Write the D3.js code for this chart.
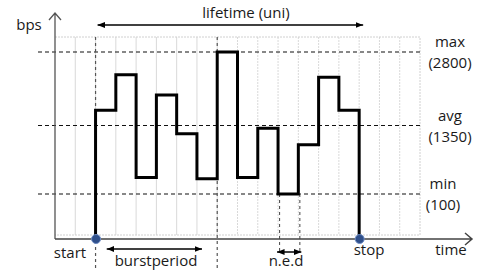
<!DOCTYPE html>
<html lang="en">
  <head>
    <meta charset="UTF-8" />
    <title>bps lifetime</title>
    <style>
      body { margin: 0; background: #fff; }
      text { font-family: "Open Sans", sans-serif; fill: #1a1a1a; }
    </style>
  </head>
  <body>
    <svg width="477" height="270"></svg>
    <script src="https://cdnjs.cloudflare.com/ajax/libs/d3/7.8.5/d3.min.js"></script>
    <script>
      // data
      const slotCount = 18;
      const startSlot = 2;
      const stopSlot = 15;
      const stepValues = [1650, 2350, 400, 1950, 1200, 380, 2800, 400, 1300, 100, 1000, 2300, 1650];
      const levelNames = ["max", "avg", "min"];
      const levelValues = [2800, 1350, 100];
      const levelLabels = ["(2800)", "(1350)", "(100)"];
      const markSlots = [2, 8];      // long dashed verticals
      const nedSlots = [11, 12];     // n.e.d span
      const burstSpan = [2.55, 7.25];

      const svg = d3.select("svg");
      const gridTop = 37, axisY = 239;

      const x = d3.scaleLinear().domain([0, slotCount]).range([55, 420]);
      // schematic axis: levels are not evenly spaced
      const y = d3.scaleLinear().domain([0, 100, 1350, 2800]).range([axisY, 194, 125.5, 52]);

      const defs = svg.append("defs");
      defs.append("marker")
        .attr("id", "tri")
        .attr("viewBox", "0 0 10 10")
        .attr("refX", 10).attr("refY", 5)
        .attr("markerWidth", 5).attr("markerHeight", 5)
        .attr("orient", "auto-start-reverse")
        .append("path").attr("d", "M0,1L10,5L0,9Z").attr("fill", "#000");

      // grid
      const g = svg.append("g");
      g.selectAll("line.v")
        .data(d3.range(1, slotCount))
        .join("line")
        .attr("x1", d => x(d)).attr("x2", d => x(d))
        .attr("y1", gridTop).attr("y2", 235)
        .attr("stroke", "#d9d9d9")
        .attr("stroke-dasharray", d => d >= 9 ? "2,1" : null);
      g.append("path")
        .attr("d", `M${x(0)},${gridTop}H${x(slotCount)}V235H${x(0)}`)
        .attr("fill", "none").attr("stroke", "#d0d0d0")
        .attr("stroke-dasharray", "2,1");

      // level lines
      g.selectAll("line.lvl")
        .data(levelValues)
        .join("line")
        .attr("x1", 38).attr("x2", 422)
        .attr("y1", d => y(d)).attr("y2", d => y(d))
        .attr("stroke", "#111").attr("stroke-width", 1.1)
        .attr("stroke-dasharray", "4,3");

      // dashed markers
      svg.selectAll("line.mk")
        .data(markSlots)
        .join("line")
        .attr("class", "mk")
        .attr("x1", d => x(d)).attr("x2", d => x(d))
        .attr("y1", gridTop).attr("y2", 270)
        .attr("stroke", "#555").attr("stroke-width", 1.2)
        .attr("stroke-dasharray", "3,3");
      svg.selectAll("line.ned")
        .data(nedSlots)
        .join("line")
        .attr("class", "ned")
        .attr("x1", d => x(d) + 1.5).attr("x2", d => x(d) + 1.5)
        .attr("y1", y(100)).attr("y2", 253)
        .attr("stroke", "#555").attr("stroke-width", 1.1)
        .attr("stroke-dasharray", "3,3");

      // axes
      svg.append("path")
        .attr("d", `M${x(0)},${axisY}V13M${x(0) - 6},20L${x(0)},13L${x(0) + 6},20`)
        .attr("fill", "none").attr("stroke", "#555").attr("stroke-width", 1.3);
      svg.append("path")
        .attr("d", `M${x(0)},${axisY}H472M465,233L472,${axisY}L465,245`)
        .attr("fill", "none").attr("stroke", "#444").attr("stroke-width", 1.5);

      // signal
      const pts = [[startSlot, 0]].concat(stepValues.map((v, i) => [startSlot + i, v]), [[stopSlot, 0]]);
      const line = d3.line().x(d => x(d[0])).y(d => y(d[1])).curve(d3.curveStepAfter);
      svg.append("path")
        .attr("d", line(pts))
        .attr("fill", "none").attr("stroke", "#000").attr("stroke-width", 3);

      svg.selectAll("circle")
        .data([startSlot, stopSlot])
        .join("circle")
        .attr("cx", d => x(d) + 0.5).attr("cy", axisY)
        .attr("r", 4.5)
        .attr("fill", "#2f4f8a").attr("stroke", "#6f8dc4").attr("stroke-width", 1);

      // span arrows
      function span(x1, x2, yy) {
        svg.append("line")
          .attr("x1", x1).attr("x2", x2).attr("y1", yy).attr("y2", yy)
          .attr("stroke", "#000").attr("stroke-width", 1.5)
          .attr("marker-start", "url(#tri)").attr("marker-end", "url(#tri)");
      }
      span(x(startSlot) + 2, x(stopSlot) + 4, 25);
      span(x(burstSpan[0]), x(burstSpan[1]), 249);
      span(x(nedSlots[0]) - 1, x(nedSlots[1]) + 3, 252);

      // labels
      const fs = 15;
      function label(t, xx, yy, anchor) {
        svg.append("text").attr("x", xx).attr("y", yy)
          .attr("text-anchor", anchor || "middle")
          .attr("font-size", fs).text(t);
      }
      label("lifetime (uni)", 246, 18);
      label("bps", 29, 30);
      label("start", 70, 258);
      label("burstperiod", 156, 266);
      label("n.e.d", 286, 266);
      label("stop", 369, 255);
      label("time", 451, 255);
      levelNames.forEach((n, i) => {
        const yy = y(levelValues[i]);
        const cx = i === 2 ? 443 : 450;
        label(n, cx, yy - 5);
        label(levelLabels[i], cx, yy + 16);
      });
    </script>
  </body>
</html>
